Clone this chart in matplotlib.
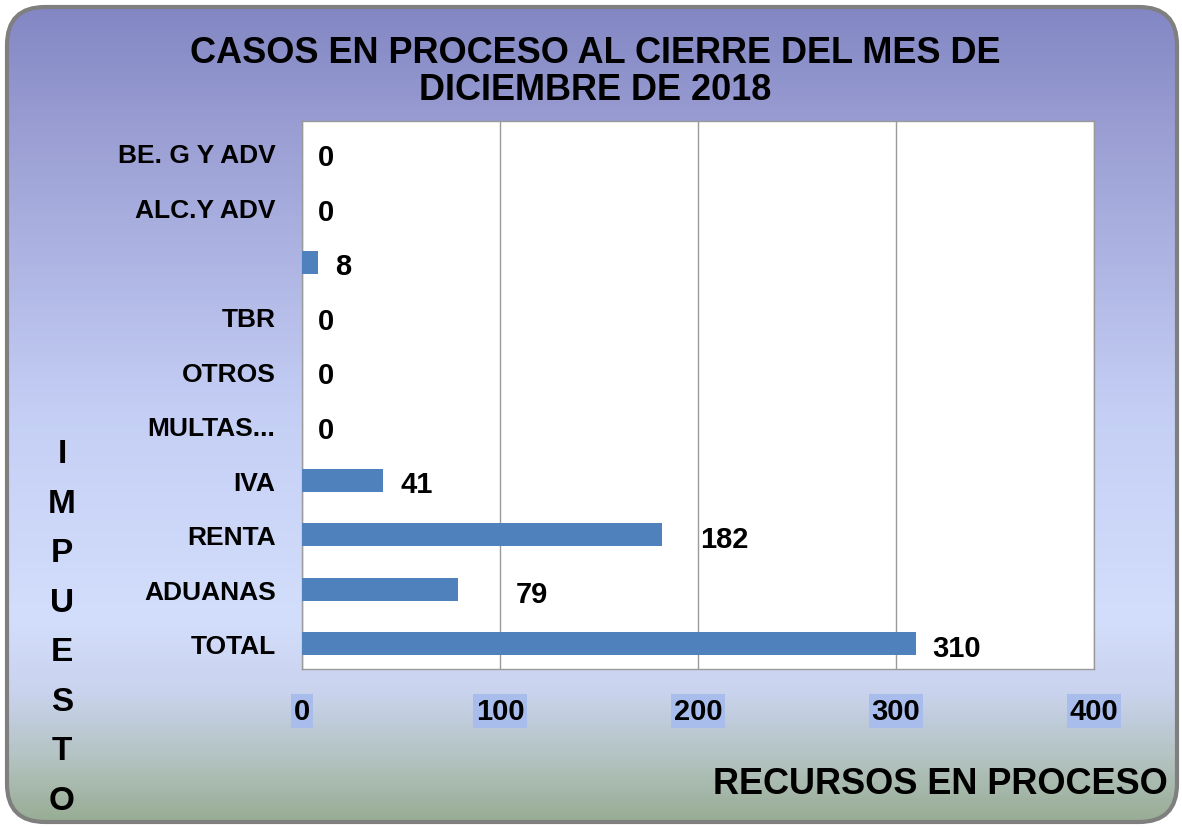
import numpy as np
import matplotlib.pyplot as plt
from matplotlib.colors import LinearSegmentedColormap
from matplotlib.patches import FancyBboxPatch

categorias = ['BE. G Y ADV', 'ALC.Y ADV', '', 'TBR', 'OTROS', 'MULTAS...',
              'IVA', 'RENTA', 'ADUANAS', 'TOTAL']
valores = [0, 0, 8, 0, 0, 0, 41, 182, 79, 310]
ticks_x = [0, 100, 200, 300, 400]
titulo = 'CASOS EN PROCESO AL CIERRE DEL MES DE\nDICIEMBRE DE 2018'
titulo_x = 'RECURSOS EN PROCESO'
titulo_y = 'IMPUESTO'

# distance (px) from bar end to its label, as placed in the original
label_pad_px = [16, 16, 17, 16, 16, 16, 17, 38, 57, 16]

W, H = 1182, 828
fig = plt.figure(figsize=(W / 100, H / 100), dpi=100)
fig.patch.set_facecolor('white')

# background panel with vertical gradient and rounded border
bg = fig.add_axes([0, 0, 1, 1])
bg.set_xlim(0, W)
bg.set_ylim(H, 0)
bg.axis('off')
cmap = LinearSegmentedColormap.from_list('fondo', [
    (0.0, '#8286C3'), (0.15, '#9A9ED3'), (0.5, '#C5CFF5'),
    (0.75, '#D3DEFC'), (0.84, '#C9D3EE'), (0.92, '#B4C3C2'), (1.0, '#97AC92')])
grad = np.linspace(0, 1, 256).reshape(-1, 1)
im = bg.imshow(grad, cmap=cmap, aspect='auto', extent=[5, W - 3, H - 3, 6])
box = FancyBboxPatch((7, 8), W - 12, H - 13, boxstyle='round,pad=0,rounding_size=38',
                     facecolor='none', edgecolor='#7F7F7F', linewidth=3)
bg.add_patch(box)
im.set_clip_path(box)

# main chart area
left, right, top, bottom = 302, 1094, 122, 670
ax = fig.add_axes([left / W, 1 - bottom / H, (right - left) / W, (bottom - top) / H])
ax.set_facecolor('white')
y = np.arange(len(categorias))
ax.barh(y, valores, height=0.42, color='#4F81BD', linewidth=0, zorder=3)
ax.set_xlim(0, 400)
ax.set_ylim(len(categorias) - 0.54, -0.586)
ax.set_xticks(ticks_x)
ax.set_yticks(y)
ax.set_yticklabels(categorias, fontsize=19, fontweight='bold', family='Liberation Sans')
ax.set_xticklabels([str(t) for t in ticks_x], fontsize=21, fontweight='bold', family='Liberation Sans')
ax.tick_params(axis='x', length=0, pad=20)
ax.tick_params(axis='y', length=0, pad=19)
for lab in ax.get_xticklabels():
    lab.set_bbox(dict(facecolor='#A9BDEC', edgecolor='none', pad=2))
ax.grid(axis='x', color='#9A9A9A', linewidth=1, zorder=0)
for s in ax.spines.values():
    s.set_color('#9A9A9A')
    s.set_linewidth(1)

for yi, v, p in zip(y, valores, label_pad_px):
    ax.annotate(str(v), (v, yi), xytext=(p * 0.72, -3), textcoords='offset points',
                ha='left', va='center', fontsize=21, fontweight='bold',
                family='Liberation Sans', zorder=4)

fig.text(595 / W, 1 - 72 / H, titulo, ha='center', va='center', fontsize=26,
         fontweight='bold', family='Liberation Sans', linespacing=1.1)
fig.text(1168 / W, 1 - 785 / H, titulo_x, ha='right', va='center', fontsize=26,
         fontweight='bold', family='Liberation Sans')
for i, letra in enumerate(titulo_y):
    fig.text(62 / W, 1 - (455 + i * 49.5) / H, letra, ha='center', va='center',
             fontsize=24, fontweight='bold', family=['Liberation Sans Narrow', 'Liberation Sans'])

fig.savefig('out.png', dpi=100)
